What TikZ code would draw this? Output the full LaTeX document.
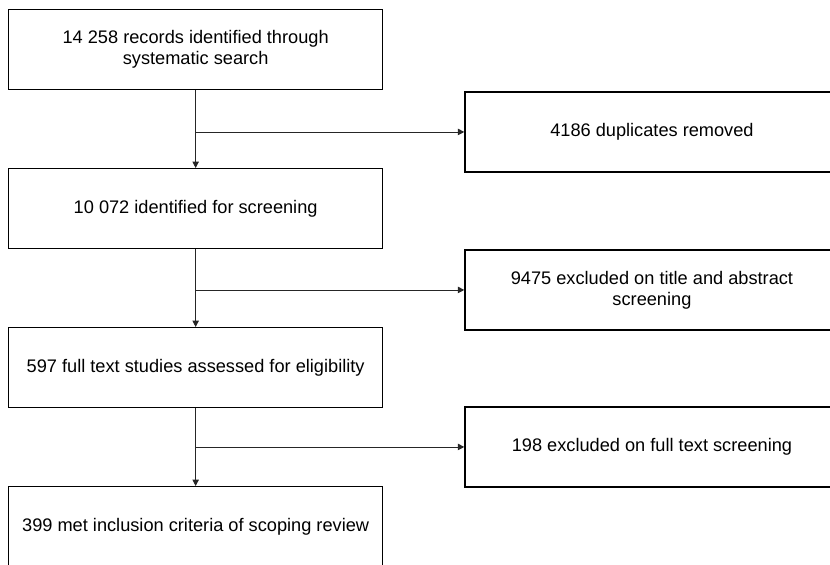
\documentclass[tikz,border=0pt]{standalone}
\usepackage{fontspec}
\setmainfont{Liberation Sans}
\usetikzlibrary{positioning,arrows.meta}

\begin{document}
\begin{tikzpicture}[
  x=0.5pt, y=-0.5pt,
  >={Triangle[length=3.2pt,width=3.2pt]},
  node distance=38.85pt and 40.5pt,
  box/.style={draw, line width=0.65pt, minimum width=187pt, minimum height=40pt,
              inner sep=0pt, align=center, font=\fontsize{9.1}{10.4}\selectfont},
  flow/.style={->, line width=0.45pt, draw=black!85},
]
  \useasboundingbox (0,0) rectangle (830,564);
  \clip (0,0) rectangle (830,564);

  \node[box, anchor=north west] (rec) at (8,9) {14 258 records identified through\\systematic search};
  \node[box, below=of rec]  (scr)  {10 072 identified for screening};
  \node[box, below=of scr]  (full) {597 full text studies assessed for eligibility};
  \node[box, below=of full] (incl) {399 met inclusion criteria of scoping review};

  \node[box, below right=0.5pt and 40.5pt of rec]  (dup)  {4186 duplicates removed};
  \node[box, below right=0pt and 40.5pt of scr]  (exta) {9475 excluded on title and abstract\\screening};
  \node[box, below right=-1pt and 40.5pt of full] (exft) {198 excluded on full text screening};

  \draw[flow] (rec) -- (scr);
  \draw[flow] (scr) -- (full);
  \draw[flow] (full) -- (incl);
  \draw[flow] (rec.south |- dup.west) -- (dup);
  \draw[flow] (scr.south |- exta.west) -- (exta);
  \draw[flow] (full.south |- exft.west) -- (exft);
\end{tikzpicture}
\end{document}
